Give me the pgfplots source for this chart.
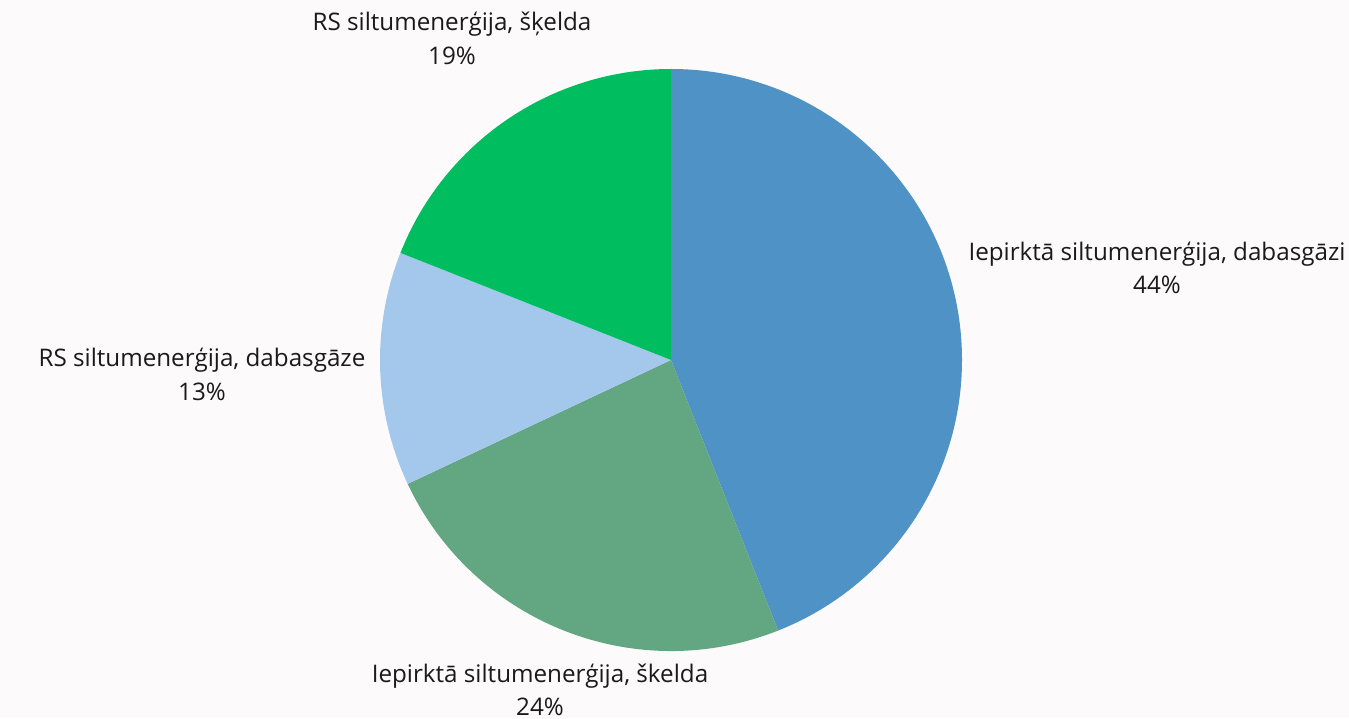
\documentclass[border=0pt]{standalone}
\usepackage{pgfplots}
\pgfplotsset{compat=1.18}
\usepackage{fontspec}
\setmainfont{Open Sans}
\definecolor{bg}{HTML}{FCFAFB}
\definecolor{ink}{HTML}{1A1A1A}
\definecolor{sBlue}{HTML}{4F93C6}
\definecolor{sSage}{HTML}{62A682}
\definecolor{sLight}{HTML}{A3C8EC}
\definecolor{sGreen}{HTML}{00BE60}

% shares (%), clockwise from the top
\def\vA{44}\def\vB{24}\def\vC{13}\def\vD{19}
\pgfmathsetmacro\aA{90}
\pgfmathsetmacro\aB{\aA-\vA*3.6}
\pgfmathsetmacro\aC{\aB-\vB*3.6}
\pgfmathsetmacro\aD{\aC-\vC*3.6}
\pgfmathsetmacro\aE{\aD-\vD*3.6}
\def\R{145.5pt}

\begin{document}
\begin{tikzpicture}
\begin{axis}[
  scale only axis, width=674.5pt, height=359pt,
  xmin=0, xmax=1349, ymin=0, ymax=718,
  hide axis, clip=false,
]
\fill[bg] (axis cs:0,0) rectangle (axis cs:1349,718);
\fill[sBlue]  (axis cs:671,358) -- ++(\aA:\R) arc[start angle=\aA, end angle=\aB, radius=\R] -- cycle;
\fill[sSage]  (axis cs:671,358) -- ++(\aB:\R) arc[start angle=\aB, end angle=\aC, radius=\R] -- cycle;
\fill[sLight] (axis cs:671,358) -- ++(\aC:\R) arc[start angle=\aC, end angle=\aD, radius=\R] -- cycle;
\fill[sGreen] (axis cs:671,358) -- ++(\aD:\R) arc[start angle=\aD, end angle=\aE, radius=\R] -- cycle;
% labels
\begin{scope}[every node/.style={font=\fontsize{12.1}{14}\selectfont, text=ink, anchor=base, inner sep=0pt}]
\node at (axis cs:1157,457) {Iepirktā siltumenerģija, dabasgāzi};
\node at (axis cs:1157,424) {44\%};
\node at (axis cs:540,36) {Iepirktā siltumenerģija, škelda};
\node at (axis cs:540,3) {24\%};
\node at (axis cs:202,351) {RS siltumenerģija, dabasgāze};
\node at (axis cs:202,317) {13\%};
\node at (axis cs:452,687) {RS siltumenerģija, šķelda};
\node at (axis cs:452,653) {19\%};
\end{scope}
\end{axis}
\end{tikzpicture}
\end{document}
